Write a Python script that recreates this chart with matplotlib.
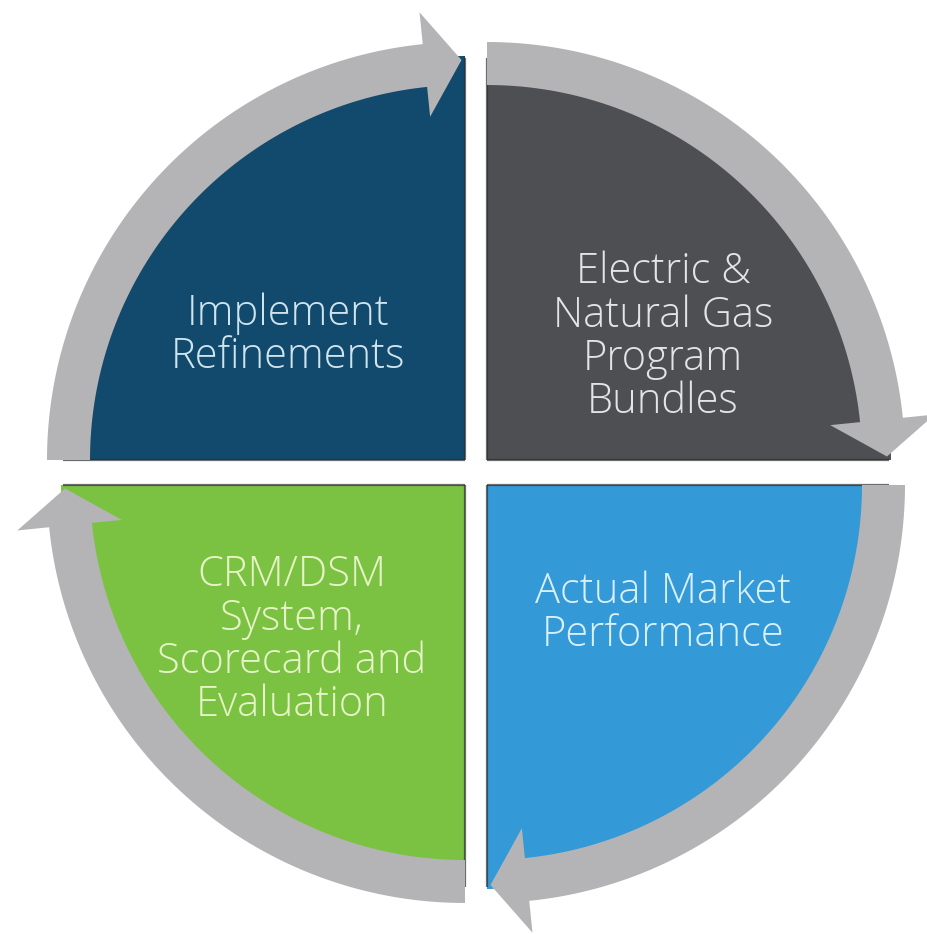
import numpy as np
import matplotlib
matplotlib.use("Agg")
import matplotlib.pyplot as plt
from matplotlib.patches import Wedge, Polygon

W, H = 928, 934

# quadrants, clockwise from top-left
LABELS = ["Implement\nRefinements",
          "Electric &\nNatural Gas\nProgram\nBundles",
          "Actual Market\nPerformance",
          "CRM/DSM\nSystem,\nScorecard and\nEvaluation"]
FILLS = ["#114a6c", "#4d4f52", "#3499d7", "#7cc242"]
TEXT_COLORS = ["#cfe4ee", "#e4e4e4", "#d8f0fb", "#e6f4c8"]
CORNERS = [(465, 460), (487, 460), (487, 485), (465, 485)]   # pixels, y down
SPANS = [(90, 180), (0, 90), (270, 360), (180, 270)]          # degrees
TEXT_POS = [(288, 335), (663, 337), (663, 613), (292, 640)]

ARROW = "#b4b4b6"
R_FILL = 404
R_IN, R_OUT = 375, 418          # arrow band
HEAD_IN, HEAD_OUT, TIP_R = 345, 450, 400
HEAD_DEG, TIP_DEG = 5.8, 0.5


def pt(cx, cy, r, a):
    a = np.radians(a)
    return cx + r * np.cos(a), cy + r * np.sin(a)


def arrow_poly(cx, cy, lo, hi):
    # clockwise arrow: from hi down to lo
    base = lo + HEAD_DEG
    a = np.linspace(hi, base, 80)
    outer = [pt(cx, cy, R_OUT, t) for t in a]
    inner = [pt(cx, cy, R_IN, t) for t in a[::-1]]
    head = [pt(cx, cy, HEAD_OUT, base), pt(cx, cy, TIP_R, lo + TIP_DEG),
            pt(cx, cy, HEAD_IN, base)]
    return outer + head + inner


fig = plt.figure(figsize=(W / 100, H / 100), dpi=100)
ax = fig.add_axes([0, 0, 1, 1])
ax.set_xlim(0, W)
ax.set_ylim(0, H)
ax.axis("off")

for (cx, cy), (lo, hi), col in zip(CORNERS, SPANS, FILLS):
    cy = H - cy
    ax.add_patch(Wedge((cx, cy), R_FILL, lo, hi, facecolor=col, edgecolor="none", zorder=1))
    # thin shadow on the straight edges
    for t in (lo, hi):
        x1, y1 = pt(cx, cy, R_FILL - 2, t)
        ax.plot([cx, x1], [cy, y1], color="#2a2f33", lw=1.6, alpha=0.7, zorder=2,
                solid_capstyle="butt")
    ax.add_patch(Polygon(arrow_poly(cx, cy, lo, hi), closed=True,
                         facecolor=ARROW, edgecolor="none", zorder=3))

for (x, y), lab, tc in zip(TEXT_POS, LABELS, TEXT_COLORS):
    ax.text(x, H - y, lab, ha="center", va="center", color=tc, fontsize=30,
            family=["Open Sans", "DejaVu Sans"], fontweight="light",
            linespacing=1.03, zorder=4)

fig.savefig("out.png", dpi=100, facecolor="white")
